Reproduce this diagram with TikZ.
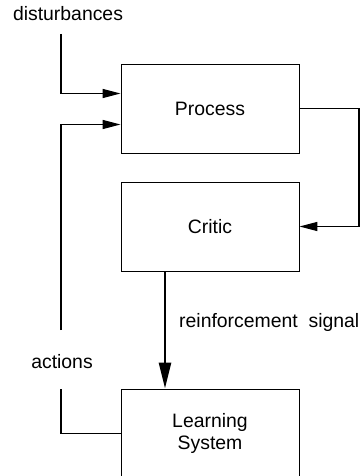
\documentclass[tikz,border=0pt]{standalone}
\usepackage{fontspec}
\setmainfont{Liberation Sans}
\usetikzlibrary{arrows.meta}

\tikzset{
  block/.style={shape=rectangle,draw=black,align=center,line width=0.9pt,minimum width=178pt,minimum height=89pt,inner sep=0pt},
  label/.style={align=center,inner sep=0pt},
  wire/.style={draw=black,line width=1.4pt},
  feed/.style={wire,-{Triangle[length=18pt,width=9pt]}},
  reinf/.style={draw=black,line width=2.8pt,-{Triangle[length=26pt,width=12pt]}}
}

\begin{document}
\begin{tikzpicture}[x=1pt,y=-1pt,font=\fontsize{19.4}{22}\selectfont]
\useasboundingbox (0,0) rectangle (362,476);

\node[block] (0) at (210,108.5) {Process};
\node[block] (1) at (210,226.5) {Critic};
\node[block] (2) at (210,433.5) {Learning\\System};

\node[label] (dist) at (68,14) {disturbances};
\node[label] (act) at (62,362) {actions};
\node[label,anchor=west] (rs) at (179,322) {reinforcement\ \ signal};

\coordinate (d0) at (61,34);
\coordinate (a0) at (61,330);
\coordinate (a1) at (61,389);
\coordinate (r0) at (359,167);

\path [feed] (d0) |- ([yshift=15pt]0.west);
\path [feed] (a0) |- ([yshift=-16pt]0.west);
\path [wire] (2.west) -| (a1);
\path [feed] (0.east) -| (r0) |- (1.east);
\path [reinf] ([xshift=-45pt]1.south) -- ([xshift=-45pt]2.north);
\end{tikzpicture}
\end{document}
